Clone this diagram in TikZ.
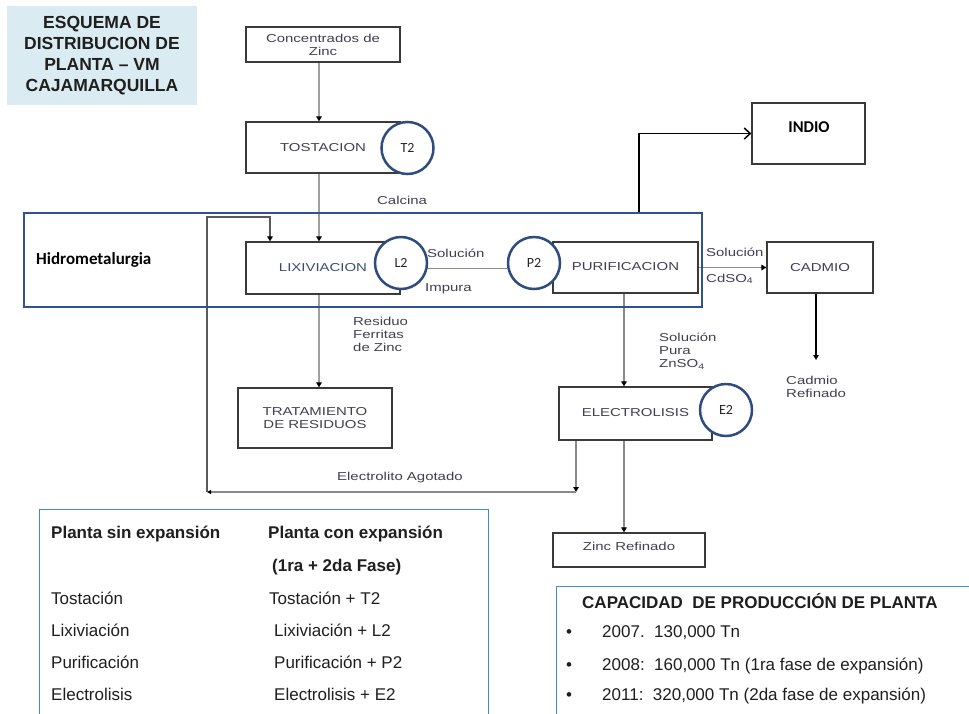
\documentclass[tikz,border=0pt]{standalone}
\usepackage{fontspec}
\setmainfont{Liberation Sans}
\newfontfamily\widefont[FakeStretch=1.3]{Liberation Sans}
\newfontfamily\calibrifont{Carlito}
\usetikzlibrary{arrows.meta,backgrounds}

\definecolor{titlebg}{HTML}{DAEBF1}
\definecolor{hidroblue}{HTML}{2F5290}
\definecolor{circblue}{HTML}{2E4C7E}
\definecolor{panelblue}{HTML}{3E8DC4}
\definecolor{boxline}{HTML}{3A3A3A}
\definecolor{boxtext}{HTML}{404050}
\definecolor{lixtext}{HTML}{3C4C74}
\definecolor{flowgray}{HTML}{A0A0A0}
\definecolor{thingray}{HTML}{8A8A8A}
\definecolor{retgray}{HTML}{5A5A5A}

\begin{document}
\begin{tikzpicture}[x=1pt,y=-1pt,
  box/.style={draw=boxline,line width=1.3pt,fill=white,inner sep=0pt,
    text=boxtext,align=center,font=\widefont\fontsize{11.5}{13}\selectfont},
  circ/.style={circle,draw=circblue,line width=2.5pt,fill=white,
    minimum size=52pt,inner sep=0pt,text=black!85,
    font=\calibrifont\fontsize{14}{16}\selectfont},
  lbl/.style={inner sep=0pt,text=boxtext,align=left,
    font=\widefont\fontsize{11.5}{13}\selectfont},
  tip/.style={-{Triangle[length=5pt,width=5.5pt,color=black]}},
  flow/.style={draw=flowgray,line width=2.5pt,tip},
  thinflow/.style={draw=thingray,line width=1.6pt},
  retline/.style={draw=retgray,line width=1.5pt},
  panel/.style={draw=panelblue,line width=1.2pt,fill=white,inner sep=0pt},
  ptext/.style={inner sep=0pt,anchor=base west,font=\fontsize{17}{20}\selectfont,text=black!88},
  pbold/.style={ptext,font=\bfseries\fontsize{17}{20}\selectfont}
]
\useasboundingbox (0,0) rectangle (969,713);
\clip (0,0) rectangle (969,713);

% title block
\node[fill=titlebg,minimum width=190pt,minimum height=99pt,inner sep=0pt,
  align=center,font=\bfseries\fontsize{17.5}{21}\selectfont,text=black!88]
  (title) at (102,55.5) {ESQUEMA DE\\DISTRIBUCION DE\\PLANTA -- VM\\CAJAMARQUILLA};

% process boxes
\node[box,minimum width=154pt,minimum height=35pt] (conc) at (323,44.5) {Concentrados de\\Zinc};
\node[box,minimum width=154pt,minimum height=51pt] (tost) at (323,147.5) {TOSTACION};
\node[box,minimum width=154pt,minimum height=52pt,text=lixtext] (lix) at (323,268) {\raisebox{2pt}{LIXIVIACION}};
\node[box,minimum width=145pt,minimum height=51pt] (pur) at (625.5,267.5) {\raisebox{2pt}{PURIFICACION}};
\node[box,minimum width=106pt,minimum height=51pt] (cad) at (820,267.5) {CADMIO};
\node[box,minimum width=113pt,minimum height=61pt] (indio) at (808.5,133.5) {};
\node[inner sep=0pt,font=\calibrifont\bfseries\fontsize{16.5}{18}\selectfont] (indiotxt) at (809,127) {INDIO};
\node[box,minimum width=154pt,minimum height=60pt] (trat) at (315,418) {TRATAMIENTO\\DE RESIDUOS};
\node[box,minimum width=153pt,minimum height=53pt] (elec) at (635.5,413.5) {\raisebox{2pt}{ELECTROLISIS}};
\node[box,minimum width=152pt,minimum height=34pt] (zinc) at (629,550) {\raisebox{7pt}{Zinc Refinado}};

% hydrometallurgy frame
\node[draw=hidroblue,line width=2.6pt,minimum width=678pt,minimum height=94pt,inner sep=0pt] (hidro) at (363,260) {};
\node[inner sep=0pt,anchor=west,font=\calibrifont\bfseries\fontsize{17}{20}\selectfont] (hidrotxt) at (36,260) {Hidrometalurgia};

% stage expansion markers
\node[circ] (T2) at (407.5,148) {T2};
\node[circ] (L2) at (401,263) {L2};
\node[circ] (P2) at (534,263) {P2};
\node[circ] (E2) at (726,410) {E2};

% stream labels
\node[lbl,anchor=base west] (calcina) at (377,204) {Calcina};
\node[lbl,anchor=base west] (sol1) at (427,257) {Solución};
\node[lbl,anchor=base west] (imp1) at (425,291) {Impura};
\node[lbl,anchor=base west] (sol2) at (706,256) {Solución};
\node[lbl,anchor=base west] (cdso) at (706,282) {CdSO\textsubscript{4}};
\node[lbl,anchor=north west] (solpura) at (659,333) {Solución\\Pura\\ZnSO\textsubscript{4}};
\node[lbl,anchor=north west] (residuo) at (353,317) {Residuo\\Ferritas\\de Zinc};
\node[lbl,anchor=base west] (agotado) at (337,480) {Electrolito Agotado};
\node[lbl,anchor=north west] (cadref) at (786,376) {Cadmio\\Refinado};

% reference columns for the connectors
\coordinate (xm) at (319,0);
\coordinate (xp) at (624,0);
\coordinate (xr) at (576,0);
\coordinate (xf) at (270,0);
\coordinate (xi) at (639,0);
\coordinate (xc) at (816,0);
\coordinate (ret) at (576,492);
\coordinate (retl) at (207,492);
\coordinate (rtop) at (207,217);
\coordinate (cadend) at (816,360);

\begin{scope}[on background layer]
  \fill[white] (0,0) rectangle (969,713);
  \draw[flow] (conc.south -| xm) -- (tost.north -| xm);
  \draw[flow] (tost.south -| xm) -- (lix.north -| xm);
  \draw[flow] (lix.south -| xm) -- (trat.north -| xm);
  \draw[thinflow] (L2.-12) -- (P2.192);
  \draw[thinflow,tip] (pur.south -| xp) -- (elec.north -| xp);
  \draw[thinflow,tip] (elec.south -| xp) -- (zinc.north -| xp);
  \draw[thinflow,tip] (pur.east) -- (cad.west);
  \draw[black,line width=1.6pt,tip] (cad.south -| xc) -- (cadend);
  \draw[black,line width=1.5pt,-{Straight Barb[length=6pt,width=11pt]}] (hidro.north -| xi) |- (indio.west);
  % spent electrolyte returned to leaching
  \draw[thinflow,tip] (elec.south -| xr) -- (ret);
  \draw[thinflow,-{Triangle[length=4pt,width=4pt,color=black]}] (ret) -- (retl);
  \draw[retline,tip] (retl) -- (rtop) -| (lix.north -| xf);
\end{scope}

% comparison panel
\node[panel,minimum width=449pt,minimum height=230pt,anchor=north west] (tabla) at (39,509) {};
\node[pbold] (h1) at (51,538) {Planta sin expansión};
\node[pbold] (h2) at (268,538) {Planta con expansión};
\node[pbold] (h3) at (272,571) {(1ra + 2da Fase)};
\node[ptext] (a1) at (51,604) {Tostación};
\node[ptext] (a2) at (51,636) {Lixiviación};
\node[ptext] (a3) at (51,668) {Purificación};
\node[ptext] (a4) at (51,700) {Electrolisis};
\node[ptext] (b1) at (269,604) {Tostación + T2};
\node[ptext] (b2) at (274,636) {Lixiviación + L2};
\node[ptext] (b3) at (274,668) {Purificación + P2};
\node[ptext] (b4) at (274,700) {Electrolisis + E2};

% capacity panel
\node[panel,minimum width=440pt,minimum height=150pt,anchor=north west] (capac) at (556,586) {};
\node[pbold] (ctitle) at (582,608) {CAPACIDAD\ \ DE PRODUCCIÓN DE PLANTA};
\node[ptext] (d1) at (566,637) {\textbullet};
\node[ptext] (d2) at (566,670) {\textbullet};
\node[ptext] (d3) at (566,700) {\textbullet};
\node[ptext] (c1) at (602,637) {2007.\ \ 130,000 Tn};
\node[ptext] (c2) at (602,670) {2008:\ \ 160,000 Tn (1ra fase de expansión)};
\node[ptext] (c3) at (602,700) {2011:\ \ 320,000 Tn (2da fase de expansión)};
\end{tikzpicture}
\end{document}
